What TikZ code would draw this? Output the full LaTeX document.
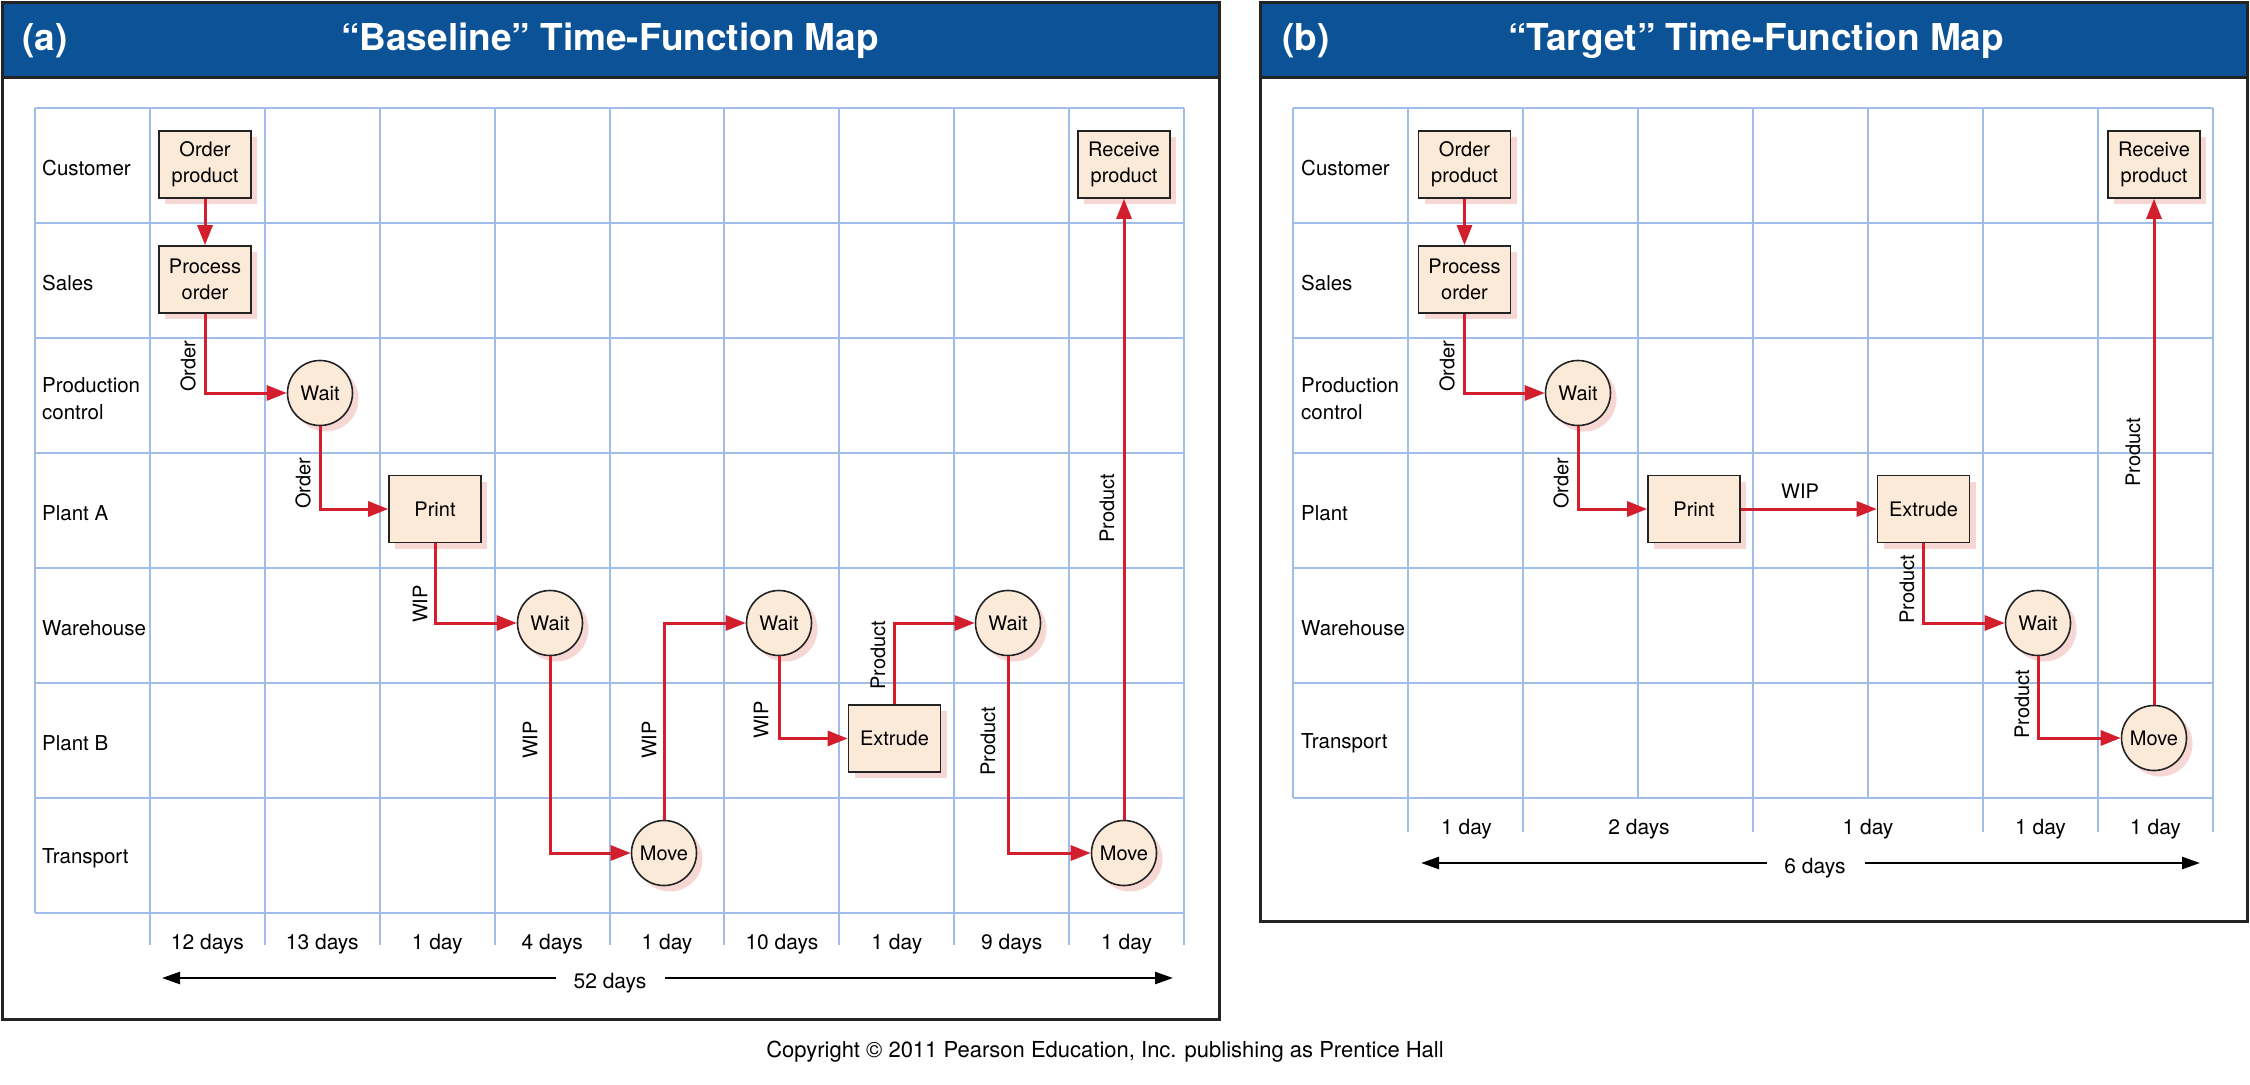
\documentclass[tikz,border=0pt]{standalone}
\usepackage{fontspec}
\setmainfont{TeX Gyre Heros}
\usetikzlibrary{arrows.meta,shadows}
\definecolor{hdrblue}{RGB}{12,82,150}
\definecolor{gridblue}{RGB}{160,188,232}
\definecolor{flowred}{RGB}{210,30,45}
\definecolor{peach}{RGB}{252,234,216}
\definecolor{shpink}{RGB}{246,215,211}
\definecolor{frm}{RGB}{35,35,35}
\newcommand{\tfmNode}{\fontsize{20}{26}\selectfont}
\newcommand{\tfmLane}{\fontsize{20.5}{27}\selectfont}
\newcommand{\tfmDay}{\fontsize{21}{25}\selectfont}
\newcommand{\tfmTtl}{\fontsize{37}{42}\selectfont\bfseries}
\tikzset{
  gridln/.style={draw=gridblue, line width=2pt},
  frameln/.style={draw=frm, line width=3pt},
  tfmshadow/.style={drop shadow={shadow xshift=6pt, shadow yshift=-6pt, fill=shpink, opacity=1}},
  box/.style={rectangle, draw=frm, line width=1.6pt, fill=peach, minimum width=92pt, minimum height=67pt, inner sep=0pt, align=center, font=\tfmNode, tfmshadow},
  evt/.style={circle, draw=frm, line width=1.6pt, fill=peach, minimum size=65pt, inner sep=0pt, font=\tfmNode, tfmshadow},
  flow/.style={draw=flowred, line width=3pt, -{Triangle[length=20pt,width=15pt]}},
  elab/.style={rotate=90, font=\tfmNode, inner sep=0pt},
  hlab/.style={font=\tfmNode, inner sep=0pt},
  lane/.style={anchor=west, align=left, font=\tfmLane, inner sep=0pt},
  dayl/.style={anchor=base, font=\tfmDay, inner sep=0pt},
  ttl/.style={text=white, font=\tfmTtl, anchor=base, inner sep=0pt},
  dim/.style={draw=black, line width=2.5pt, -{Triangle[length=18pt,width=12pt]}},
}
\begin{document}
\begin{tikzpicture}[x=1pt,y=-1pt]
\useasboundingbox (0,0) rectangle (2250,1084);
\fill[white] (0,0) rectangle (2250,1084);

% ---------------- panel (a) ----------------
\fill[hdrblue] (2,2) rectangle (1219,77);
\draw[frameln] (2,77) -- (1219,77);
\draw[frameln] (2,2) rectangle (1219,1019);
\node[ttl] (la) at (45,50) {(a)};
\node[ttl] (ta) at (610,50) {“Baseline” Time-Function Map};

% grid
\foreach \k in {0,...,7} { \draw[gridln] (35,108+115*\k) -- (1184,108+115*\k); }
\draw[gridln] (35,108) -- (35,913);
\foreach \i in {1,...,10} { \draw[gridln] (35+114.9*\i,108) -- (35+114.9*\i,945); }

% lanes
\node[lane] (a1) at (42,168) {Customer};
\node[lane] (a2) at (42,283) {Sales};
\node[lane] (a3) at (42,399) {Production\\control};
\node[lane] (a4) at (42,513) {Plant A};
\node[lane] (a5) at (42,628) {Warehouse};
\node[lane] (a6) at (42,743) {Plant B};
\node[lane] (a7) at (42,858) {Transport};

% days
\node[dayl] (ad1) at (207.4,949) {12 days};
\node[dayl] (ad2) at (322.3,949) {13 days};
\node[dayl] (ad3) at (437.2,949) {1 day};
\node[dayl] (ad4) at (552.2,949) {4 days};
\node[dayl] (ad5) at (667.0,949) {1 day};
\node[dayl] (ad6) at (781.9,949) {10 days};
\node[dayl] (ad7) at (896.8,949) {1 day};
\node[dayl] (ad8) at (1011.7,949) {9 days};
\node[dayl] (ad9) at (1126.6,949) {1 day};
\node[dayl] (tot52) at (610,988) {52 days};
\coordinate (a52l) at (162,978);
\coordinate (a52r) at (1173,978);
\draw[dim] (556,978) coordinate (g52l) -- (a52l);
\draw[dim] (665,978) coordinate (g52r) -- (a52r);

% nodes
\node[box] (aop) at (205,164.5) {Order\\product};
\node[box] (apo) at (205,279.5) {Process\\order};
\node[evt] (aw1) at (320,393) {Wait};
\node[box] (apr) at (435,509) {Print};
\node[evt] (aw2) at (550,623) {Wait};
\node[evt] (am1) at (664,853) {Move};
\node[evt] (aw3) at (779,623) {Wait};
\node[box] (aex) at (894.5,738.5) {Extrude};
\node[evt] (aw4) at (1008,623) {Wait};
\node[evt] (am2) at (1124,853) {Move};
\node[box] (arp) at (1124,164.5) {Receive\\product};

% connectors
\draw[flow] (aop) -- (apo);
\draw[flow] (apo.south) |- (aw1.west);
\draw[flow] (aw1.south) |- (apr.west);
\draw[flow] (apr.south) |- (aw2.west);
\draw[flow] (aw2.south) |- (am1.west);
\draw[flow] (am1.north) |- (aw3.west);
\draw[flow] (aw3.south) |- (aex.west);
\draw[flow] (aex.north) |- (aw4.west);
\draw[flow] (aw4.south) |- (am2.west);
\draw[flow] (am2.north) -- (arp.south);

% connector labels
\node[elab] (al1) at (188,366) {Order};
\node[elab] (al2) at (303,483) {Order};
\node[elab] (al3) at (420,604) {WIP};
\node[elab] (al4) at (530,740) {WIP};
\node[elab] (al5) at (649,740) {WIP};
\node[elab] (al6) at (761,720) {WIP};
\node[elab] (al7) at (878,655) {Product};
\node[elab] (al8) at (988,741) {Product};
\node[elab] (al9) at (1107,508) {Product};

% ---------------- panel (b) ----------------
\fill[hdrblue] (1260,2) rectangle (2247,77);
\draw[frameln] (1260,77) -- (2247,77);
\draw[frameln] (1260,2) rectangle (2247,921);
\node[ttl] (lb) at (1306,50) {(b)};
\node[ttl] (tb) at (1756,50) {“Target” Time-Function Map};

\foreach \k in {0,...,6} { \draw[gridln] (1293,108+115*\k) -- (2213,108+115*\k); }
\foreach \i in {0,3,5} { \draw[gridln] (1293+115*\i,108) -- (1293+115*\i,798); }
\foreach \i in {1,2,4,6,7,8} { \draw[gridln] (1293+115*\i,108) -- (1293+115*\i,832); }

\node[lane] (b1) at (1301,168) {Customer};
\node[lane] (b2) at (1301,283) {Sales};
\node[lane] (b3) at (1301,399) {Production\\control};
\node[lane] (b4) at (1301,513) {Plant};
\node[lane] (b5) at (1301,628) {Warehouse};
\node[lane] (b6) at (1301,743) {Transport};

\node[dayl] (bd1) at (1466.5,834) {1 day};
\node[dayl] (bd2) at (1639,834) {2 days};
\node[dayl] (bd3) at (1868,834) {1 day};
\node[dayl] (bd4) at (2040.5,834) {1 day};
\node[dayl] (bd5) at (2155.5,834) {1 day};
\node[dayl] (tot6) at (1815,873) {6 days};
\coordinate (a6l) at (1421,863);
\coordinate (a6r) at (2200,863);
\draw[dim] (1767,863) coordinate (g6l) -- (a6l);
\draw[dim] (1865,863) coordinate (g6r) -- (a6r);

\node[box] (bop) at (1464.5,164.5) {Order\\product};
\node[box] (bpo) at (1464.5,279.5) {Process\\order};
\node[evt] (bw1) at (1578,393) {Wait};
\node[box] (bpr) at (1694,509) {Print};
\node[box] (bex) at (1923.5,509) {Extrude};
\node[evt] (bw2) at (2038,623) {Wait};
\node[evt] (bm1) at (2154,738) {Move};
\node[box] (brp) at (2154,164.5) {Receive\\product};

\draw[flow] (bop) -- (bpo);
\draw[flow] (bpo.south) |- (bw1.west);
\draw[flow] (bw1.south) |- (bpr.west);
\draw[flow] (bpr) -- (bex);
\draw[flow] (bex.south) |- (bw2.west);
\draw[flow] (bw2.south) |- (bm1.west);
\draw[flow] (bm1.north) -- (brp.south);

\node[elab] (bl1) at (1447,366) {Order};
\node[elab] (bl2) at (1561,483) {Order};
\node[hlab] (bl3) at (1800,491) {WIP};
\node[elab] (bl4) at (1907,589) {Product};
\node[elab] (bl5) at (2022,704) {Product};
\node[elab] (bl6) at (2133,452) {Product};

% copyright
\node[anchor=base, font=\fontsize{22}{26}\selectfont, inner sep=0pt] (copy) at (1105,1057) {Copyright © 2011 Pearson Education, Inc. publishing as Prentice Hall};
\end{tikzpicture}
\end{document}
